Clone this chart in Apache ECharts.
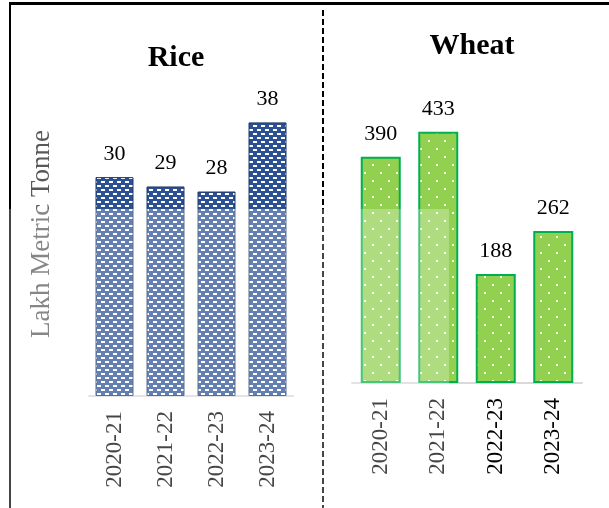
<!DOCTYPE html>
<html>
<head>
<meta charset="utf-8">
<script src="https://cdn.jsdelivr.net/npm/echarts@6/dist/echarts.min.js"></script>
<style>
  html, body { margin: 0; padding: 0; background: #fff; }
  #chart { width: 609px; height: 508px; }
</style>
</head>
<body>
<div id="chart"></div>
<script>
const years = ['2020-21', '2021-22', '2022-23', '2023-24'];
const riceValues = [30.4, 29.1, 28.4, 38.0];
const wheatValues = [390, 433, 188, 262];
const titles = ['Rice', 'Wheat'];
const yName = 'Lakh Metric Tonne';

const serif = 'Liberation Serif, Times New Roman, serif';

// brick-like dashes for rice
function ricePattern() {
  const c = document.createElement('canvas');
  c.width = 8; c.height = 8;
  const g = c.getContext('2d');
  g.fillStyle = '#2B5094';
  g.fillRect(0, 0, 8, 8);
  g.fillStyle = '#ffffff';
  g.fillRect(1, 1, 4, 2);
  g.fillRect(5, 5, 3, 2);
  g.fillRect(0, 5, 1, 2);
  return c;
}

// white dots for wheat
function wheatPattern() {
  const c = document.createElement('canvas');
  c.width = 16; c.height = 16;
  const g = c.getContext('2d');
  g.fillStyle = '#92D050';
  g.fillRect(0, 0, 16, 16);
  g.fillStyle = '#ffffff';
  g.fillRect(4, 4, 2, 2);
  g.fillRect(12, 12, 2, 2);
  return c;
}

const chart = echarts.init(document.getElementById('chart'));

const xAxisBase = {
  type: 'category',
  data: years,
  axisLine: { lineStyle: { color: '#D9D9D9', width: 2 } },
  axisTick: { show: false },
  axisLabel: {
    rotate: 90,
    fontSize: 23,
    fontFamily: serif,
    color: '#000',
    margin: 15
  }
};

const labelBase = {
  show: true,
  position: 'top',
  distance: 12,
  fontSize: 22,
  fontFamily: serif,
  color: '#000',
  formatter: (p) => Math.round(p.value)
};

const option = {
  animation: false,
  backgroundColor: '#fff',
  title: [
    {
      text: titles[0],
      left: 171,
      top: 38,
      textAlign: 'center',
      textStyle: { fontSize: 30, fontWeight: 'bold', fontFamily: serif, color: '#000' }
    },
    {
      text: titles[1],
      left: 467,
      top: 26,
      textAlign: 'center',
      textStyle: { fontSize: 30, fontWeight: 'bold', fontFamily: serif, color: '#000' }
    }
  ],
  grid: [
    { left: 89, right: 316, top: 72, bottom: 112 },
    { left: 352, right: 27, top: 93, bottom: 125 }
  ],
  xAxis: [
    Object.assign({ gridIndex: 0 }, xAxisBase),
    Object.assign({ gridIndex: 1 }, xAxisBase)
  ],
  yAxis: [
    {
      gridIndex: 0,
      type: 'value',
      min: 0,
      max: 45,
      name: yName,
      nameLocation: 'middle',
      nameGap: 34,
      nameTextStyle: { fontSize: 27, fontFamily: serif, color: '#595959' },
      axisLine: { show: false },
      axisTick: { show: false },
      axisLabel: { show: false },
      splitLine: { show: false }
    },
    {
      gridIndex: 1,
      type: 'value',
      min: 0,
      max: 500,
      axisLine: { show: false },
      axisTick: { show: false },
      axisLabel: { show: false },
      splitLine: { show: false }
    }
  ],
  series: [
    {
      type: 'bar',
      xAxisIndex: 0,
      yAxisIndex: 0,
      data: riceValues,
      barWidth: 38,
      itemStyle: {
        color: { image: ricePattern(), repeat: 'repeat' },
        borderColor: '#1F3864',
        borderWidth: 1
      },
      label: labelBase
    },
    {
      type: 'bar',
      xAxisIndex: 1,
      yAxisIndex: 1,
      data: wheatValues,
      barWidth: 40,
      itemStyle: {
        color: { image: wheatPattern(), repeat: 'repeat' },
        borderColor: '#00B050',
        borderWidth: 2
      },
      label: labelBase
    }
  ],
  graphic: [
    {
      type: 'line',
      shape: { x1: 9, y1: 3.5, x2: 609, y2: 3.5 },
      style: { stroke: '#000', lineWidth: 3 }
    },
    {
      type: 'line',
      shape: { x1: 10, y1: 3, x2: 10, y2: 508 },
      style: { stroke: '#000', lineWidth: 2 }
    },
    {
      type: 'line',
      shape: { x1: 323, y1: 10, x2: 323, y2: 508 },
      style: { stroke: '#000', lineWidth: 2, lineDash: [6, 3] }
    },
    {
      type: 'rect',
      z: 100,
      shape: { x: 0, y: 209, width: 449, height: 299 },
      style: { fill: 'rgba(255,255,255,0.27)' }
    }
  ]
};

chart.setOption(option);
</script>
</body>
</html>
